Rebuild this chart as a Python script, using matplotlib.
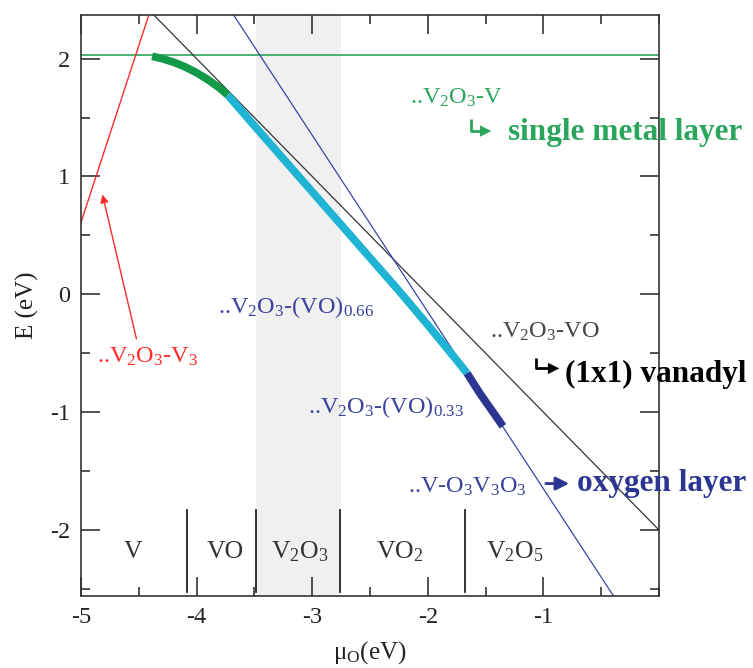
import matplotlib
matplotlib.use("Agg")
import matplotlib.pyplot as plt
from matplotlib.ticker import MultipleLocator
import numpy as np

plt.rcParams['font.family'] = ['Liberation Serif', 'DejaVu Serif']
plt.rcParams['mathtext.fontset'] = 'custom'
plt.rcParams['mathtext.rm'] = 'Liberation Serif'
plt.rcParams['mathtext.it'] = 'Liberation Serif:italic'
plt.rcParams['mathtext.bf'] = 'Liberation Serif:bold'
plt.rcParams['mathtext.default'] = 'regular'
plt.rcParams['axes.unicode_minus'] = False

# ---- data -------------------------------------------------------------
# lowest-energy surface: three stretches of the same curve (mu_O, E)
mu_metal = [-4.385, -4.30, -4.20, -4.10, -4.00, -3.90, -3.80, -3.73]
E_metal = [2.02, 2.00, 1.97, 1.93, 1.88, 1.82, 1.75, 1.69]

mu_vo066 = [-3.73, -3.50, -3.25, -3.00, -2.75, -2.50, -2.25, -2.00, -1.75, -1.66]
E_vo066 = [1.69, 1.43, 1.15, 0.87, 0.59, 0.31, 0.03, -0.26, -0.56, -0.67]

mu_vo033 = [-1.66, -1.55, -1.45, -1.35]
E_vo033 = [-0.67, -0.84, -0.98, -1.12]

# straight-line terminations: E = slope * mu_O + offset
single_layer_E = 2.03
v3_slope, v3_offset = 3.0, 15.61
vo_slope, vo_offset = -1.0, -2.0
oxy_slope, oxy_offset = -1.5, -3.15

# bulk stability windows
phase_bounds = [-4.08, -3.49, -2.76, -1.68]
phase_labels = ['V', 'VO', 'V$_2$O$_3$', 'VO$_2$', 'V$_2$O$_5$']
phase_label_mu = [-4.55, -3.75, -3.11, -2.24, -1.245]
v2o3_window = (-3.49, -2.75)

x_min, x_max = -5.0, 0.0
y_min, y_max = -2.56, 2.37

# ---- colours ----------------------------------------------------------
c_green = '#2aa55c'
c_green_thick = '#139a48'
c_cyan = '#1fb4d3'
c_navy = '#2c3692'
c_blue_line = '#3a45a8'
c_red = '#ff2a2a'
c_label_blue = '#3a419c'
c_dark = '#222222'

fig = plt.figure(figsize=(7.53, 6.68), dpi=100)
ax = fig.add_axes([81 / 753, 1 - 596 / 668, (659 - 81) / 753, (596 - 15) / 668])

ax.axvspan(*v2o3_window, color='#f0f0f0', zorder=0, lw=0)

mu = np.linspace(x_min, x_max, 400)
ax.plot(mu, np.full_like(mu, single_layer_E), color=c_green, lw=1.2, zorder=2)
ax.plot(mu, v3_slope * mu + v3_offset, color=c_red, lw=1.0, zorder=2)
ax.plot(mu, vo_slope * mu + vo_offset, color='#333333', lw=0.9, zorder=2)
ax.plot(mu, oxy_slope * mu + oxy_offset, color=c_blue_line, lw=0.9, zorder=2)

thick = dict(lw=5.6, solid_capstyle='butt', zorder=4)
ax.plot(mu_metal, E_metal, color=c_green_thick, **thick)
ax.plot(mu_vo066, E_vo066, color=c_cyan, **thick)
ax.plot(mu_vo033, E_vo033, color=c_navy, **thick)

for b in phase_bounds:
    ax.plot([b, b], [-2.53, -1.83], color=c_dark, lw=1.3, zorder=3)
for lab, m in zip(phase_labels, phase_label_mu):
    ax.text(m, -2.24, lab, ha='center', va='baseline', fontsize=18.5, color='#333333')

ax.set_xlim(x_min, x_max)
ax.set_ylim(y_min, y_max)
ax.xaxis.set_minor_locator(MultipleLocator(0.5))
ax.yaxis.set_major_locator(MultipleLocator(1))
ax.yaxis.set_minor_locator(MultipleLocator(0.5))
ax.set_xticks([-5, -4, -3, -2, -1])
ax.tick_params(which='both', direction='in', top=True, right=True,
               color='#333333', width=1.2, labelsize=17.5, labelcolor='#222222')
ax.tick_params(which='major', length=13.5, pad=8)
ax.tick_params(which='minor', length=6.5)
for s in ax.spines.values():
    s.set_color('#333333')
    s.set_linewidth(1.2)

ax.set_xlabel('μ$_O$(eV)', fontsize=18, color='#222222', labelpad=8)
ax.set_ylabel('E (eV)', fontsize=18, color='#222222', labelpad=8)

# ---- curve labels -----------------------------------------------------
lab_kw = dict(fontsize=17.5, va='baseline', ha='left', zorder=6)
ax.text(-2.154, 1.62, '..V$_2$O$_3$-V', color=c_green, **lab_kw)
ax.text(-1.462, -0.365, '..V$_2$O$_3$-VO', color='#444444', **lab_kw)
ax.text(-3.815, -0.161, '..V$_2$O$_3$-(VO)$_{0.66}$', color=c_label_blue, **lab_kw)
ax.text(-3.036, -1.011, '..V$_2$O$_3$-(VO)$_{0.33}$', color=c_label_blue, **lab_kw)
ax.text(-2.171, -1.682, '..V-O$_3$V$_3$O$_3$', color=c_label_blue, **lab_kw)
ax.text(-4.862, -0.578, '..V$_2$O$_3$-V$_3$', color=c_red, **lab_kw)

ax.annotate('', xy=(-4.82, 0.87), xytext=(-4.515, -0.40),
            arrowprops=dict(arrowstyle='-|>', color=c_red, lw=1.0,
                            mutation_scale=12), zorder=6)

# ---- bold structure notes with hooked arrows --------------------------
bold_kw = dict(fontsize=22.5, fontweight='bold', va='baseline', ha='left',
               zorder=7, clip_on=False)


def hook(x0, y_top, y_bot, x_end, color):
    ax.plot([x0, x0, x_end - 0.06], [y_top, y_bot, y_bot], color=color,
            lw=2.0, clip_on=False, zorder=7, solid_capstyle='butt')
    ax.annotate('', xy=(x_end, y_bot), xytext=(x_end - 0.1, y_bot),
                arrowprops=dict(arrowstyle='-|>', color=color, lw=0.1,
                                mutation_scale=20),
                annotation_clip=False, zorder=7)


hook(-1.626, 1.487, 1.385, -1.427, c_green)
ax.text(-1.306, 1.308, 'single metal layer', color=c_green, **bold_kw)

hook(-1.064, -0.544, -0.629, -0.839, '#000000')
ax.text(-0.813, -0.748, '(1x1) vanadyl', color='#000000', **bold_kw)

ax.annotate('', xy=(-0.753, -1.606), xytext=(-1.003, -1.606),
            arrowprops=dict(arrowstyle='-|>', color=c_navy, lw=2.0,
                            mutation_scale=20),
            annotation_clip=False, zorder=7)
ax.text(-0.709, -1.665, 'oxygen layer', color=c_navy, **bold_kw)

fig.savefig('out.png', dpi=100)
